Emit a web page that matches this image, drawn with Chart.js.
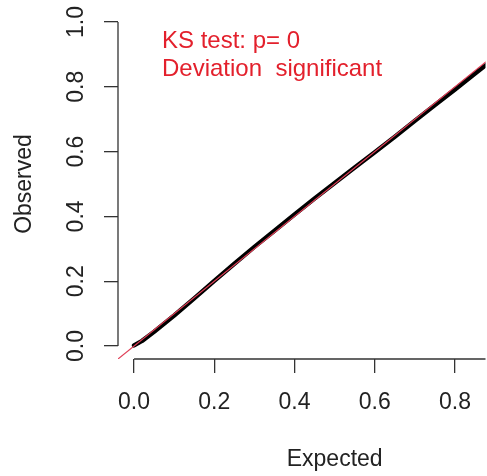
<!DOCTYPE html>
<html>
<head>
<meta charset="utf-8">
<script src="https://cdn.jsdelivr.net/npm/chart.js@4"></script>
<style>
  body { margin: 0; background: #fff; }
</style>
</head>
<body>
<canvas id="qq" width="487" height="476"></canvas>
<script>
// uniform QQ plot of the scaled residuals
var expected = [0, 0.02, 0.05, 0.1, 0.15, 0.2, 0.25, 0.3, 0.35, 0.4, 0.45, 0.5, 0.55, 0.6, 0.65, 0.7, 0.75, 0.8, 0.85, 0.9];
var observed = [0.002, 0.016, 0.044, 0.094, 0.147, 0.201, 0.254, 0.306, 0.356, 0.406, 0.455, 0.503, 0.551, 0.598, 0.646, 0.695, 0.744, 0.792, 0.841, 0.889];
var refLine = [-0.1, 1.1];
var xTicks = [0, 0.2, 0.4, 0.6, 0.8];
var yTicks = [0, 0.2, 0.4, 0.6, 0.8, 1.0];
var ksLines = ['KS test: p= 0', 'Deviation  significant'];

var FONT = '"Liberation Sans", Arial, sans-serif';
var AXIS = '#333';

var qqPoints = expected.map(function (e, i) { return { x: e, y: observed[i] }; });
var refPoints = refLine.map(function (v) { return { x: v, y: v }; });

// R-style axes: line only from first to last tick, rotated y labels
var rAxes = {
  id: 'rAxes',
  afterDraw: function (chart) {
    var c = chart.ctx, xs = chart.scales.x, ys = chart.scales.y, a = chart.chartArea;
    c.save();
    c.strokeStyle = AXIS;
    c.lineWidth = 1.3;
    c.beginPath();
    c.moveTo(xs.getPixelForValue(0), a.bottom);
    c.lineTo(a.right, a.bottom);
    c.moveTo(a.left, ys.getPixelForValue(yTicks[0]));
    c.lineTo(a.left, ys.getPixelForValue(yTicks[yTicks.length - 1]));
    c.stroke();

    c.fillStyle = '#222';
    c.font = '23px ' + FONT;
    c.textAlign = 'center';
    c.textBaseline = 'middle';
    yTicks.forEach(function (t) {
      c.save();
      c.translate(77, ys.getPixelForValue(t));
      c.rotate(-Math.PI / 2);
      c.fillText(t.toFixed(1), 0, 0);
      c.restore();
    });

    c.save();
    c.translate(25, (a.top + a.bottom) / 2);
    c.rotate(-Math.PI / 2);
    c.fillText('Observed', 0, 0);
    c.restore();

    c.fillText('Expected', xs.getPixelForValue(0.5), 460);

    c.fillStyle = '#e3202c';
    c.font = '24px ' + FONT;
    c.textAlign = 'left';
    ksLines.forEach(function (s, i) {
      c.fillText(s, a.left + 44, 41 + i * 28);
    });
    c.restore();
  }
};

new Chart(document.getElementById('qq'), {
  type: 'scatter',
  data: {
    datasets: [{
      data: refPoints,
      showLine: true,
      borderColor: '#e04058',
      borderWidth: 1.2,
      pointRadius: 0,
      order: 0
    }, {
      data: qqPoints,
      showLine: true,
      borderColor: '#000',
      borderWidth: 4.5,
      borderCapStyle: 'round',
      borderJoinStyle: 'round',
      pointRadius: 0,
      order: 1
    }]
  },
  options: {
    responsive: false,
    devicePixelRatio: 1,
    animation: false,
    layout: { padding: { top: 9, right: 0, left: 0, bottom: 0 } },
    plugins: { legend: { display: false }, tooltip: { enabled: false } },
    scales: {
      x: {
        type: 'linear',
        min: -0.04,
        max: 0.876,
        afterBuildTicks: function (s) { s.ticks = xTicks.map(function (v) { return { value: v }; }); },
        afterFit: function (s) { s.height = 117; },
        border: { display: false },
        grid: { drawOnChartArea: false, drawTicks: true, tickLength: 14, color: AXIS, lineWidth: 1.3 },
        ticks: {
          font: { size: 23, family: FONT },
          color: '#222',
          padding: 16,
          maxRotation: 0,
          callback: function (v) { return v.toFixed(1); }
        }
      },
      y: {
        type: 'linear',
        min: -0.04,
        max: 1.04,
        afterBuildTicks: function (s) { s.ticks = yTicks.map(function (v) { return { value: v }; }); },
        afterFit: function (s) { s.width = 118; },
        border: { display: false },
        grid: { drawOnChartArea: false, drawTicks: true, tickLength: 14, color: AXIS, lineWidth: 1.3 },
        ticks: { display: false }
      }
    }
  },
  plugins: [rAxes]
});
</script>
</body>
</html>
